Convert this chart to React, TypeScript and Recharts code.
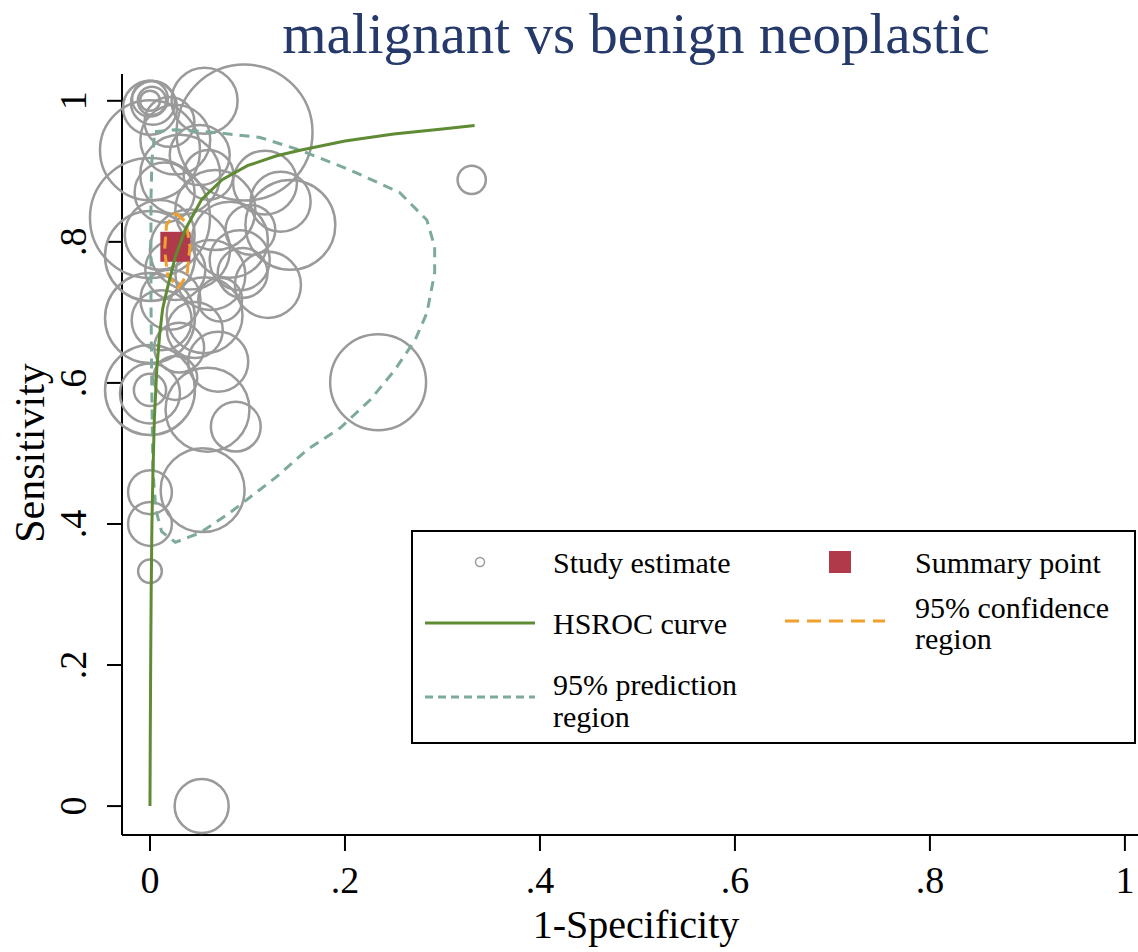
import React from 'react';
import { ScatterChart, Scatter, XAxis, YAxis, ZAxis, Legend } from 'recharts';

// study estimates: 1-specificity, sensitivity, study weight
const studyFpr = [
  0, 0.002, 0, 0.003, 0, 0.056, 0.097, 0, 0.026, 0.051,
  0.031, 0.118, 0.144, 0, 0.067, 0.082, 0.041, 0.103, 0.121, 0.092,
  0.062, 0, 0.026, 0.056, 0, 0.021, 0.046, 0.072, 0, 0,
  0, 0.026, 0.059, 0.088, 0.054, 0, 0, 0, 0.053, 0.234,
  0.33, 0.134, 0.095, 0.015, 0.06, 0.02, 0.01, 0.03, 0.012, 0.07,
];
const studySens = [
  1, 1, 1.003, 0.997, 0.99, 1, 0.955, 0.93, 0.945, 0.923,
  0.895, 0.884, 0.824, 0.834, 0.845, 0.803, 0.789, 0.817, 0.739, 0.774,
  0.753, 0.78, 0.76, 0.696, 0.692, 0.718, 0.675, 0.718, 0.59, 0.585,
  0.59, 0.607, 0.562, 0.538, 0.448, 0.445, 0.4, 0.333, 0, 0.601,
  0.888, 0.857, 0.756, 0.87, 0.895, 0.97, 0.81, 0.65, 0.689, 0.63,
];
const studyWeight = [
  10, 20, 32, 48, 73, 109, 462, 250, 122, 90,
  160, 102, 202, 360, 160, 144, 160, 62, 109, 90,
  122, 202, 90, 144, 202, 90, 78, 48, 202, 90,
  26, 48, 176, 62, 176, 48, 48, 14, 73, 230,
  20, 90, 62, 90, 62, 62, 122, 62, 90, 90,
];

const summaryFpr = [0.026];
const summarySens = [0.793];

const hsrocFpr = [0, 0.0003, 0.0007, 0.0012, 0.002, 0.003, 0.0045, 0.007, 0.01, 0.013, 0.018, 0.026, 0.036, 0.053, 0.074, 0.1, 0.13, 0.154, 0.2, 0.25, 0.3, 0.333];
const hsrocSens = [0, 0.1, 0.2, 0.3, 0.4, 0.47, 0.55, 0.62, 0.67, 0.705, 0.735, 0.779, 0.817, 0.86, 0.888, 0.908, 0.922, 0.93, 0.943, 0.953, 0.96, 0.965];

const predFpr = [0.005, 0.026, 0.067, 0.113, 0.154, 0.205, 0.256, 0.284, 0.292, 0.292, 0.284, 0.272, 0.251, 0.226, 0.195, 0.161, 0.13, 0.082, 0.051, 0.041, 0.026, 0.012, 0.006, 0.003, 0.002, 0.001, 0.001, 0.002, 0.005];
const predSens = [0.956, 0.959, 0.955, 0.948, 0.93, 0.902, 0.87, 0.831, 0.793, 0.756, 0.699, 0.661, 0.618, 0.576, 0.536, 0.505, 0.467, 0.416, 0.387, 0.382, 0.374, 0.389, 0.42, 0.477, 0.576, 0.718, 0.86, 0.916, 0.956];

const confFpr = [0.026, 0.037, 0.041, 0.038, 0.029, 0.018, 0.015, 0.017, 0.026];
const confSens = [0.841, 0.828, 0.793, 0.753, 0.735, 0.753, 0.789, 0.824, 0.841];

const axisTicks = [0, 0.2, 0.4, 0.6, 0.8, 1];
const tickLabels = ['0', '.2', '.4', '.6', '.8', '1'];

const pairs = (xs: number[], ys: number[]) => xs.map((x, i) => ({ x, y: ys[i] }));

const studies = studyFpr.map((x, i) => ({ x, y: studySens[i], w: studyWeight[i] }));
const summary = pairs(summaryFpr, summarySens);
const hsroc = pairs(hsrocFpr, hsrocSens);
const prediction = pairs(predFpr, predSens);
const confidence = pairs(confFpr, confSens);

const FONT = '"Liberation Serif", "Times New Roman", serif';
const GREEN = '#5e8b34';
const TEAL = '#7daa9b';
const ORANGE = '#f0a02c';
const RED = '#b03a4a';
const GRAY = '#9a9a9a';

const fmt = (v: number) => tickLabels[axisTicks.indexOf(v)] ?? String(v);

const StudyCircle = (props: any) => {
  const { cx, cy, width } = props;
  if (cx == null || cy == null || !width) return <g />;
  return <circle cx={cx} cy={cy} r={width / 2} fill="none" stroke={GRAY} strokeWidth={2.5} />;
};

const SummarySquare = (props: any) => {
  const { cx, cy } = props;
  return <rect x={cx - 15} y={cy - 15} width={30} height={30} fill={RED} />;
};

const NoDot = () => <g />;

const XTick = (props: any) => (
  <text x={props.payload.coordinate} y={893} textAnchor="middle" fontSize={38} fontFamily={FONT} fill="#000">
    {fmt(props.payload.value)}
  </text>
);

const YTick = (props: any) => {
  const y = props.payload.coordinate;
  return (
    <text x={86} y={y} transform={`rotate(-90 86 ${y})`} textAnchor="middle" fontSize={38} fontFamily={FONT} fill="#000">
      {fmt(props.payload.value)}
    </text>
  );
};

const LegendBox = () => (
  <svg width={726} height={215} style={{ display: 'block' }}>
    <rect x={1} y={1} width={723} height={212} fill="#fff" stroke="#000" strokeWidth={2} />
    <g fontFamily={FONT} fontSize={30} fill="#000" dominantBaseline="central">
      <circle cx={69} cy={32} r={4.5} fill="none" stroke={GRAY} strokeWidth={1.5} />
      <text x={142} y={32}>Study estimate</text>
      <rect x={418} y={21} width={22} height={22} fill={RED} />
      <text x={504} y={32}>Summary point</text>

      <line x1={14} y1={93} x2={124} y2={93} stroke={GREEN} strokeWidth={3} />
      <text x={142} y={93}>HSROC curve</text>
      <line x1={374} y1={91} x2={474} y2={91} stroke={ORANGE} strokeWidth={3} strokeDasharray="14 8" />
      <text x={504} y={77}>95% confidence</text>
      <text x={504} y={108}>region</text>

      <line x1={14} y1={167} x2={124} y2={167} stroke={TEAL} strokeWidth={3} strokeDasharray="8 5" />
      <text x={142} y={154}>95% prediction</text>
      <text x={142} y={186}>region</text>
    </g>
  </svg>
);

export default function App() {
  return (
    <div style={{ position: 'fixed', left: 0, top: 0, width: 1138, height: 952, overflow: 'hidden', background: '#fff' }}>
      <ScatterChart width={1160} height={952} margin={{ top: 74, right: 0, bottom: 0, left: 0 }}>
        <XAxis
          type="number"
          dataKey="x"
          domain={[-0.0287, 1.036]}
          ticks={axisTicks}
          tick={<XTick />}
          tickSize={16}
          height={117}
          axisLine={{ stroke: '#000', strokeWidth: 2 }}
          tickLine={{ stroke: '#000', strokeWidth: 2 }}
          label={{
            content: () => (
              <text x={636} y={938} textAnchor="middle" fontSize={40} fontFamily={FONT} fill="#000">
                1-Specificity
              </text>
            ),
          }}
        />
        <YAxis
          type="number"
          dataKey="y"
          domain={[-0.041, 1.038]}
          ticks={axisTicks}
          tick={<YTick />}
          tickSize={15}
          width={122}
          axisLine={{ stroke: '#000', strokeWidth: 2 }}
          tickLine={{ stroke: '#000', strokeWidth: 2 }}
          label={{
            content: () => (
              <text x={44} y={453} transform="rotate(-90 44 453)" textAnchor="middle" fontSize={42} fontFamily={FONT} fill="#000">
                Sensitivity
              </text>
            ),
          }}
        />
        <ZAxis type="number" dataKey="w" domain={[0, 500]} range={[0, 5000 * Math.PI]} />
        <Legend layout="vertical" align="center" verticalAlign="middle" wrapperStyle={{ left: 411, top: 530, width: 726, height: 215 }} content={<LegendBox />} />
        <Scatter name="Study estimate" data={studies} shape={<StudyCircle />} isAnimationActive={false} />
        <Scatter
          name="95% prediction region"
          data={prediction}
          shape={<NoDot />}
          line={{ stroke: TEAL, strokeWidth: 3, strokeDasharray: '10 7' }}
          isAnimationActive={false}
        />
        <Scatter name="Summary point" data={summary} shape={<SummarySquare />} isAnimationActive={false} />
        <Scatter
          name="95% confidence region"
          data={confidence}
          shape={<NoDot />}
          line={{ stroke: ORANGE, strokeWidth: 3, strokeDasharray: '12 6' }}
          isAnimationActive={false}
        />
        <Scatter
          name="HSROC curve"
          data={hsroc}
          shape={<NoDot />}
          line={{ stroke: GREEN, strokeWidth: 3 }}
          isAnimationActive={false}
        />
      </ScatterChart>
      <svg width={1138} height={80} style={{ position: 'absolute', left: 0, top: 0, pointerEvents: 'none' }}>
        <text x={636} y={53} textAnchor="middle" fontSize={57} fontFamily={FONT} fill="#25396a">
          malignant vs benign neoplastic
        </text>
      </svg>
    </div>
  );
}
